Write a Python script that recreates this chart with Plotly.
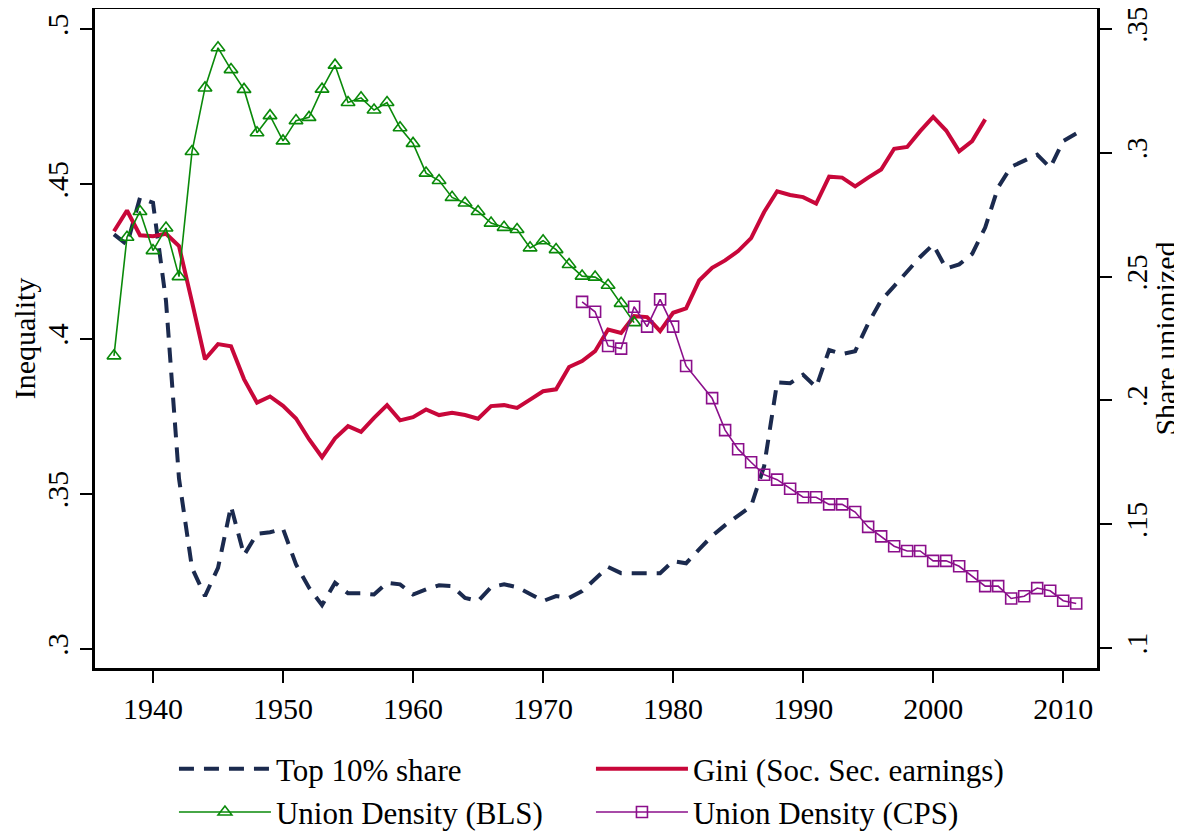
import plotly.graph_objs as go

# top 10% share and Gini (left axis), union density (right axis)
years_top10 = list(range(1937, 2012))
top10_share = [0.4338, 0.4305, 0.4456, 0.4440, 0.4123, 0.3550, 0.3262, 0.3171, 0.3262, 0.3461,
               0.3303, 0.3372, 0.3377, 0.3388, 0.3273, 0.3198, 0.3142, 0.3214, 0.3180, 0.3180,
               0.3176, 0.3214, 0.3209, 0.3176, 0.3193, 0.3206, 0.3203, 0.3165, 0.3155, 0.3200,
               0.3209, 0.3200, 0.3178, 0.3155, 0.3171, 0.3165, 0.3187, 0.3226, 0.3265, 0.3245,
               0.3245, 0.3245, 0.3245, 0.3284, 0.3277, 0.3322, 0.3365, 0.3400, 0.3430, 0.3461,
               0.3590, 0.3860, 0.3858, 0.3885, 0.3845, 0.3965, 0.3952, 0.3961, 0.4050, 0.4125,
               0.4171, 0.4219, 0.4265, 0.4305, 0.4228, 0.4241, 0.4275, 0.4360, 0.4490, 0.4556,
               0.4574, 0.4595, 0.4553, 0.4639, 0.4663]

years_gini = list(range(1937, 2005))
gini = [0.4348, 0.4415, 0.4335, 0.4332, 0.4340, 0.4300, 0.4120, 0.3935, 0.3984, 0.3977,
        0.3871, 0.3795, 0.3815, 0.3785, 0.3744, 0.3677, 0.3619, 0.3680, 0.3719, 0.3701,
        0.3746, 0.3787, 0.3738, 0.3748, 0.3773, 0.3755, 0.3762, 0.3755, 0.3743, 0.3784,
        0.3787, 0.3778, 0.3805, 0.3832, 0.3838, 0.3910, 0.3929, 0.3961, 0.4031, 0.4020,
        0.4074, 0.4071, 0.4026, 0.4085, 0.4099, 0.4189, 0.4230, 0.4254, 0.4284, 0.4326,
        0.4410, 0.4477, 0.4465, 0.4458, 0.4437, 0.4524, 0.4521, 0.4493, 0.4521, 0.4547,
        0.4614, 0.4620, 0.4671, 0.4717, 0.4673, 0.4606, 0.4639, 0.4709]

years_bls = list(range(1937, 1978))
union_bls = [0.2180, 0.2659, 0.2763, 0.2605, 0.2696, 0.2500, 0.3005, 0.3262, 0.3424, 0.3336,
             0.3256, 0.3081, 0.3150, 0.3048, 0.3130, 0.3143, 0.3257, 0.3354, 0.3203, 0.3222,
             0.3173, 0.3203, 0.3101, 0.3038, 0.2918, 0.2888, 0.2820, 0.2797, 0.2763, 0.2716,
             0.2699, 0.2690, 0.2616, 0.2645, 0.2609, 0.2549, 0.2502, 0.2498, 0.2465, 0.2392,
             0.2314]

# no CPS figure for 1982
years_cps = list(range(1973, 1982)) + list(range(1983, 2012))
union_cps = [0.2398, 0.2358, 0.2220, 0.2209, 0.2378, 0.2298, 0.2408, 0.2298, 0.2139,
             0.2009, 0.1880, 0.1803, 0.1750, 0.1700, 0.1680, 0.1643, 0.1609, 0.1609, 0.1580,
             0.1580, 0.1549, 0.1489, 0.1451, 0.1411, 0.1392, 0.1392, 0.1352, 0.1352, 0.1330,
             0.1290, 0.1250, 0.1250, 0.1200, 0.1209, 0.1242, 0.1231, 0.1191, 0.1180]

x_ticks = [1940, 1950, 1960, 1970, 1980, 1990, 2000, 2010]
left_ticks = [0.3, 0.35, 0.4, 0.45, 0.5]
left_labels = [".3", ".35", ".4", ".45", ".5"]
right_ticks = [0.1, 0.15, 0.2, 0.25, 0.3, 0.35]
right_labels = [".1", ".15", ".2", ".25", ".3", ".35"]

FONT = "Liberation Serif"

fig = go.Figure()
fig.add_trace(go.Scatter(x=years_top10, y=top10_share, name="Top 10% share", mode="lines",
                         line=dict(color="#1b2a4e", width=4, dash="15px,10px")))
fig.add_trace(go.Scatter(x=years_gini, y=gini, name="Gini (Soc. Sec. earnings)", mode="lines",
                         line=dict(color="#c8073a", width=4)))
fig.add_trace(go.Scatter(x=years_bls, y=union_bls, name="Union Density (BLS)", mode="lines+markers",
                         yaxis="y2", line=dict(color="#0a8a0a", width=1.6),
                         marker=dict(symbol="triangle-up-open", size=12, color="#0a8a0a",
                                     line=dict(width=1.6, color="#0a8a0a"))))
fig.add_trace(go.Scatter(x=years_cps, y=union_cps, name="Union Density (CPS)", mode="lines+markers",
                         yaxis="y2", line=dict(color="#8b0f8b", width=1.6),
                         marker=dict(symbol="square-open", size=11, color="#8b0f8b",
                                     line=dict(width=1.6, color="#8b0f8b"))))

# page body has an 8px margin, so the figure is a bit smaller than the window
fig.update_layout(
    width=1174, height=825,
    margin=dict(l=87, r=85, t=1, b=165, autoexpand=False),
    paper_bgcolor="white", plot_bgcolor="white",
    font=dict(family=FONT, size=30, color="black"),
    showlegend=True,
    legend=dict(orientation="h", x=0.0788, xanchor="left", yref="container", y=0.1103,
                yanchor="top", entrywidth=310, entrywidthmode="pixels", itemwidth=92,
                font=dict(family=FONT, size=31), tracegroupgap=0,
                bgcolor="rgba(0,0,0,0)"),
    xaxis=dict(range=[1935.54, 2012.6], tickvals=x_ticks, ticks="outside", ticklen=12,
               tickwidth=2, tickcolor="black", showline=True, linewidth=2.5, linecolor="black",
               mirror=True, showgrid=False, zeroline=False, tickfont=dict(size=30)),
    yaxis=dict(range=[0.2939, 0.5065], tickvals=left_ticks, ticktext=left_labels,
               tickangle=-90, ticks="outside", ticklen=12, tickwidth=2, tickcolor="black",
               ticklabeloverflow="allow",
               showline=True, linewidth=2.5, linecolor="black", showgrid=False, zeroline=False,
               title=dict(text="Inequality", standoff=4, font=dict(size=30))),
    yaxis2=dict(range=[0.09192, 0.35808], tickvals=right_ticks, ticktext=right_labels,
                tickangle=-90, overlaying="y", side="right", ticks="outside", ticklen=12,
                tickwidth=2, tickcolor="black", ticklabeloverflow="allow",
                tickfont=dict(size=29),
                showline=True, linewidth=2.5, linecolor="black",
                showgrid=False, zeroline=False,
                title=dict(text="Share unionized", standoff=3, font=dict(size=30))),
)

fig.write_html("out.html")
